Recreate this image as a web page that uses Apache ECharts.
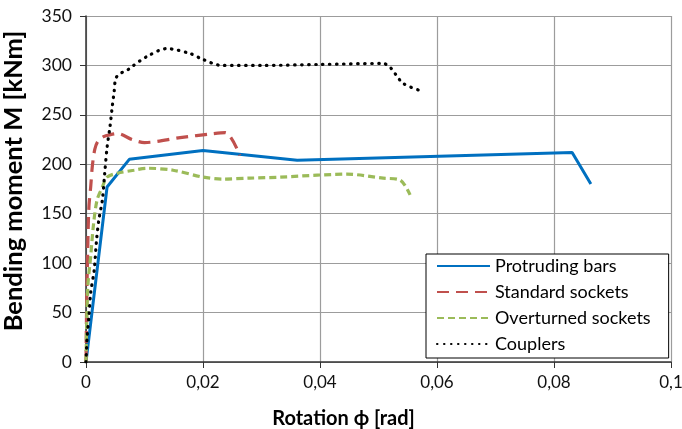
<!DOCTYPE html>
<html>
<head>
<meta charset="utf-8">
<style>
  html, body { margin: 0; padding: 0; background: #fff; }
  #chart { width: 682px; height: 429px; }
</style>
<script src="https://cdn.jsdelivr.net/npm/echarts@6/dist/echarts.min.js"></script>
</head>
<body>
<div id="chart"></div>
<script>
// Moment–rotation curves of four connection types
const seriesNames = ['Protruding bars', 'Standard sockets', 'Overturned sockets', 'Couplers'];

const protrudingRot = [0, 0.0036, 0.0074, 0.0200, 0.0361, 0.0831, 0.0863];
const protrudingM   = [0, 177, 205, 214, 204, 212, 180];

const standardRot = [0, 0.0001, 0.0003, 0.0005, 0.0008, 0.0011, 0.0015, 0.0020, 0.0030, 0.0042, 0.0054, 0.0079, 0.0100, 0.0161, 0.0217, 0.0238, 0.0263];
const standardM   = [0, 53, 115, 157, 177, 199, 215, 223, 228, 230, 231, 225, 222, 227, 231, 232, 209];

const overturnedRot = [0, 0.0003, 0.0008, 0.0013, 0.0019, 0.0028, 0.0036, 0.0054, 0.0082, 0.0104, 0.0149, 0.0200, 0.0234, 0.0280, 0.0332, 0.0395, 0.0446, 0.0508, 0.0537, 0.0554];
const overturnedM   = [0, 75, 107, 140, 164, 177, 187, 191, 194, 196, 194, 187, 185, 186, 187, 189, 190, 186, 184, 169];

const couplersRot = [0, 0.0002, 0.0005, 0.0008, 0.0014, 0.0018, 0.0022, 0.0028, 0.0032, 0.0036, 0.0041, 0.0045, 0.0048, 0.0051, 0.0059, 0.0070, 0.0079, 0.0104, 0.0138, 0.0178, 0.0200, 0.0232, 0.0300, 0.0400, 0.0508, 0.0520, 0.0542, 0.0574];
const couplersM   = [0, 26, 46, 70, 93, 123, 144, 164, 191, 217, 238, 259, 273, 287, 292, 295, 299, 309, 317, 312, 306, 300, 300, 301, 302, 298, 282, 274];

const xTicks = { min: 0, max: 0.1, interval: 0.02 };
const yTicks = { min: 0, max: 350, interval: 50 };

const FONT = 'Lato, "Open Sans", sans-serif';

function pairs(xs, ys) {
  return xs.map((x, i) => [x, ys[i]]);
}

const chart = echarts.init(document.getElementById('chart'), null, { renderer: 'canvas' });

chart.setOption({
  animation: false,
  backgroundColor: '#fff',
  grid: { left: 86, right: 11, top: 16, bottom: 67, containLabel: false, outerBoundsMode: 'none' },
  legend: {
    orient: 'vertical',
    left: 426,
    top: 254,
    padding: [3, 18, 5, 10],
    itemWidth: 53,
    itemHeight: 14,
    itemGap: 8,
    backgroundColor: '#fff',
    borderColor: '#000',
    borderWidth: 1,
    borderRadius: 0,
    // line-only keys: the marker dot is made invisible
    itemStyle: { color: 'rgba(0,0,0,0)', borderWidth: 0, opacity: 0 },
    textStyle: { fontFamily: FONT, fontSize: 18, color: '#000' },
    data: seriesNames
  },
  xAxis: {
    type: 'value',
    min: xTicks.min,
    max: xTicks.max,
    interval: xTicks.interval,
    name: 'Rotation ϕ [rad]',
    nameLocation: 'middle',
    nameGap: 47,
    nameTextStyle: { fontFamily: FONT, fontSize: 20, fontWeight: 'bold', color: '#000', padding: [0, 70, 0, 0] },
    axisLine: { show: true, onZero: false, lineStyle: { color: '#333', width: 1.5 } },
    axisTick: { show: true, length: 6, lineStyle: { color: '#333', width: 1 } },
    axisLabel: {
      margin: 12,
      fontFamily: FONT, fontSize: 17, color: '#111',
      formatter: v => v === 0 ? '0' : String(+v.toFixed(2)).replace('.', ',')
    },
    splitLine: { show: true, lineStyle: { color: '#9c9c9c', width: 1.2 } }
  },
  yAxis: {
    type: 'value',
    min: yTicks.min,
    max: yTicks.max,
    interval: yTicks.interval,
    name: 'Bending moment M [kNm]',
    nameLocation: 'middle',
    nameGap: 59,
    nameTextStyle: { fontFamily: FONT, fontSize: 25.5, fontWeight: 'bold', color: '#000', padding: [0, 0, 0, 16] },
    axisLine: { show: true, onZero: false, lineStyle: { color: '#333', width: 1.5 } },
    axisTick: { show: true, length: 6, lineStyle: { color: '#333', width: 1 } },
    axisLabel: { margin: 14, fontFamily: FONT, fontSize: 17.5, color: '#111' },
    splitLine: { show: true, lineStyle: { color: '#9c9c9c', width: 1.2 } }
  },
  series: [
    {
      name: seriesNames[0],
      type: 'line',
      symbol: 'none',
      data: pairs(protrudingRot, protrudingM),
      lineStyle: { color: '#0070C0', width: 3 },
      itemStyle: { color: '#0070C0' }
    },
    {
      name: seriesNames[1],
      type: 'line',
      symbol: 'none',
      smooth: 0.3,
      data: pairs(standardRot, standardM),
      lineStyle: { color: '#C0504D', width: 3.2, type: [12, 7] },
      itemStyle: { color: '#C0504D' }
    },
    {
      name: seriesNames[2],
      type: 'line',
      symbol: 'none',
      smooth: 0.3,
      data: pairs(overturnedRot, overturnedM),
      lineStyle: { color: '#9BBB59', width: 3.2, type: [7, 4] },
      itemStyle: { color: '#9BBB59' }
    },
    {
      name: seriesNames[3],
      type: 'line',
      symbol: 'none',
      smooth: 0.3,
      data: pairs(couplersRot, couplersM),
      lineStyle: { color: '#000', width: 3.2, type: [0.5, 6.5], cap: 'round' },
      itemStyle: { color: '#000' }
    }
  ]
});
</script>
</body>
</html>
